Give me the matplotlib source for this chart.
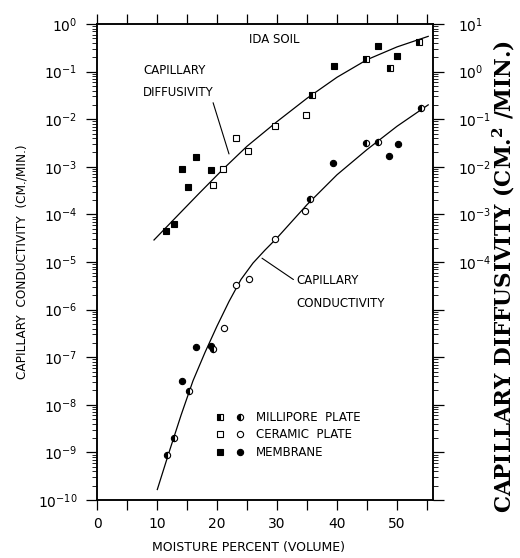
import matplotlib
matplotlib.use("Agg")
import matplotlib.pyplot as plt
from matplotlib.ticker import LogLocator, FuncFormatter, MultipleLocator, NullFormatter
from matplotlib.legend_handler import HandlerTuple
from matplotlib.lines import Line2D

# ---------------- data ----------------
# Capillary diffusivity (cm^2/min), right axis
diff_membrane_x = [11.5, 12.8, 14.1, 15.2, 16.45, 18.95, 39.55, 46.9, 50.05]
diff_membrane_y = [4.4e-4, 6.2e-4, 8.9e-3, 3.7e-3, 1.6e-2, 8.5e-3, 1.3, 3.4, 2.1]
diff_ceramic_x = [19.4, 20.95, 23.2, 25.2, 29.7, 34.8]
diff_ceramic_y = [4.2e-3, 8.9e-3, 4.1e-2, 2.2e-2, 7.2e-2, 0.12]
diff_millipore_x = [35.8, 44.8, 48.8, 53.7]
diff_millipore_y = [0.32, 1.8, 1.2, 4.2]

# Capillary conductivity (cm/min), left axis
cond_millipore_x = [11.6, 12.9, 15.3, 19.4, 35.5, 44.8, 46.9, 54.0]
cond_millipore_y = [9e-10, 2.0e-9, 1.95e-8, 1.5e-7, 2.1e-4, 3.1e-3, 3.4e-3, 1.7e-2]
cond_membrane_x = [14.1, 16.5, 19.0, 39.4, 48.7, 50.2]
cond_membrane_y = [3.1e-8, 1.6e-7, 1.7e-7, 1.2e-3, 1.7e-3, 3.0e-3]
cond_ceramic_x = [21.2, 23.2, 25.4, 29.7, 34.7]
cond_ceramic_y = [4.1e-7, 3.3e-6, 4.4e-6, 3.0e-5, 1.2e-4]

# fitted curves drawn on the chart
diff_curve_x = [9.5, 13, 17, 21, 25, 30, 35, 40, 45, 50, 55.2]
diff_curve_y = [2.9e-4, 8.3e-4, 2.75e-3, 8.9e-3, 2.7e-2, 8.9e-2, 0.275, 0.76, 1.78, 3.3, 5.5]
cond_curve_x = [10.05, 12, 14, 16, 18, 20, 22, 24, 26, 28, 30, 35, 40, 45, 50, 55.2]
cond_curve_y = [1.66e-10, 1.0e-9, 6.0e-9, 3.2e-8, 1.26e-7, 4.5e-7, 1.48e-6, 4.3e-6,
                9.5e-6, 1.78e-5, 3.2e-5, 1.6e-4, 6.8e-4, 2.3e-3, 7.1e-3, 2.0e-2]

x_ticks = [0, 10, 20, 30, 40, 50]
methods = ["MILLIPORE  PLATE", "CERAMIC  PLATE", "MEMBRANE"]

# ---------------- figure ----------------
plt.rcParams["font.family"] = ["DejaVu Sans"]
plt.rcParams["mathtext.fontset"] = "dejavusans"

fig = plt.figure(figsize=(5.2, 5.58), dpi=100)
ax = fig.add_axes([97 / 520, 1 - 500 / 558, 336 / 520, 476 / 558])
ax2 = ax.twinx()

ax.set_xlim(0, 56)
ax.set_yscale("log")
ax.set_ylim(1e-10, 1e0)
ax2.set_yscale("log")
ax2.set_ylim(1e-9, 1e1)

k = "black"
ms = 4.5
sq_mill = dict(marker="s", ms=ms, mfc=k, mec=k, fillstyle="left", mfcalt="white", mew=0.8, ls="none")
sq_cer = dict(marker="s", ms=ms, mfc="white", mec=k, mew=0.8, ls="none")
sq_mem = dict(marker="s", ms=ms, mfc=k, mec=k, mew=0.8, ls="none")
ci_mill = dict(marker="o", ms=ms, mfc=k, mec=k, fillstyle="left", mfcalt="white", mew=0.8, ls="none")
ci_cer = dict(marker="o", ms=ms, mfc="white", mec=k, mew=0.8, ls="none")
ci_mem = dict(marker="o", ms=ms, mfc=k, mec=k, mew=0.8, ls="none")

# curves
ax2.plot(diff_curve_x, diff_curve_y, color=k, lw=0.9)
ax.plot(cond_curve_x, cond_curve_y, color=k, lw=0.9)

# diffusivity points
ax2.plot(diff_membrane_x, diff_membrane_y, **sq_mem)
ax2.plot(diff_ceramic_x, diff_ceramic_y, **sq_cer)
ax2.plot(diff_millipore_x, diff_millipore_y, **sq_mill)
# conductivity points
ax.plot(cond_membrane_x, cond_membrane_y, **ci_mem)
ax.plot(cond_ceramic_x, cond_ceramic_y, **ci_cer)
ax.plot(cond_millipore_x, cond_millipore_y, **ci_mill)

# ---------------- ticks ----------------
def pow_fmt(v, pos):
    import math
    e = int(round(math.log10(v)))
    return r"$\mathregular{10^{%d}}$" % e

def pow_fmt_right(v, pos):
    import math
    e = int(round(math.log10(v)))
    if e < -4:
        return ""
    return r"$\mathregular{10^{%d}}$" % e

ax.xaxis.set_major_locator(MultipleLocator(10))
ax.xaxis.set_minor_locator(MultipleLocator(5))
ax.set_xticks(x_ticks)
ax.tick_params(axis="x", which="both", direction="out", top=True, labeltop=False,
               length=7, width=0.9, labelsize=10, pad=5)

ax.yaxis.set_major_locator(LogLocator(base=10, numticks=20))
ax.yaxis.set_minor_locator(LogLocator(base=10, subs=range(2, 10), numticks=20))
ax.yaxis.set_major_formatter(FuncFormatter(pow_fmt))
ax.yaxis.set_minor_formatter(NullFormatter())
ax.tick_params(axis="y", which="major", direction="out", length=8, width=0.9, labelsize=10, pad=6)
ax.tick_params(axis="y", which="minor", direction="out", length=3.5, width=0.6)

ax2.yaxis.set_major_locator(LogLocator(base=10, numticks=20))
ax2.yaxis.set_minor_locator(LogLocator(base=10, subs=range(2, 10), numticks=20))
ax2.yaxis.set_major_formatter(FuncFormatter(pow_fmt_right))
ax2.yaxis.set_minor_formatter(NullFormatter())
ax2.tick_params(axis="y", which="major", direction="out", length=8, width=0.9, labelsize=10, pad=10)
ax2.tick_params(axis="y", which="minor", direction="out", length=3.5, width=0.6)

for a in (ax, ax2):
    for s in a.spines.values():
        s.set_linewidth(1.1)

# ---------------- labels ----------------
ax.set_xlabel("MOISTURE PERCENT (VOLUME)", fontsize=9)
ax.xaxis.set_label_coords(0.45, -0.087)
ax.set_ylabel("CAPILLARY  CONDUCTIVITY  (CM./MIN.)", fontsize=8.7)
ax.yaxis.set_label_coords(-0.205, 0.5)
ax2.set_ylabel("CAPILLARY DIFFUSIVITY (CM.$^{\\mathregular{2}}$ /MIN.)", fontsize=15.5,
               family="DejaVu Serif", fontweight="bold", rotation=90)
ax2.yaxis.set_label_coords(1.172, 0.47)

ax.text(0.527, 0.968, "IDA SOIL", transform=ax.transAxes, ha="center", va="center", fontsize=8.5)

ax.annotate("CAPILLARY\nDIFFUSIVITY", xy=(22.0, 10 ** -2.73), xytext=(7.7, 10 ** -1.2),
            fontsize=8.5, ha="left", va="center", linespacing=1.9,
            arrowprops=dict(arrowstyle="-", color=k, lw=0.8, shrinkA=1, shrinkB=0,
                            relpos=(0.97, 0.0)))
ax.annotate("CAPILLARY\nCONDUCTIVITY", xy=(27.5, 10 ** -4.92), xytext=(33.2, 10 ** -5.62),
            fontsize=8.5, ha="left", va="center", linespacing=2.0,
            arrowprops=dict(arrowstyle="-", color=k, lw=0.8, shrinkA=0, shrinkB=0,
                            relpos=(0.0, 0.78)))

# ---------------- legend ----------------
handles = [
    (Line2D([], [], **sq_mill), Line2D([], [], **ci_mill)),
    (Line2D([], [], **sq_cer), Line2D([], [], **ci_cer)),
    (Line2D([], [], **sq_mem), Line2D([], [], **ci_mem)),
]
ax.legend(handles, methods, loc="upper left", bbox_to_anchor=(0.35, 0.187), frameon=False,
          handler_map={tuple: HandlerTuple(ndivide=None, pad=0.9)},
          fontsize=8.5, handlelength=2.6, handletextpad=0.9, labelspacing=0.38,
          borderpad=0, borderaxespad=0)

fig.savefig("out.png", dpi=100)
